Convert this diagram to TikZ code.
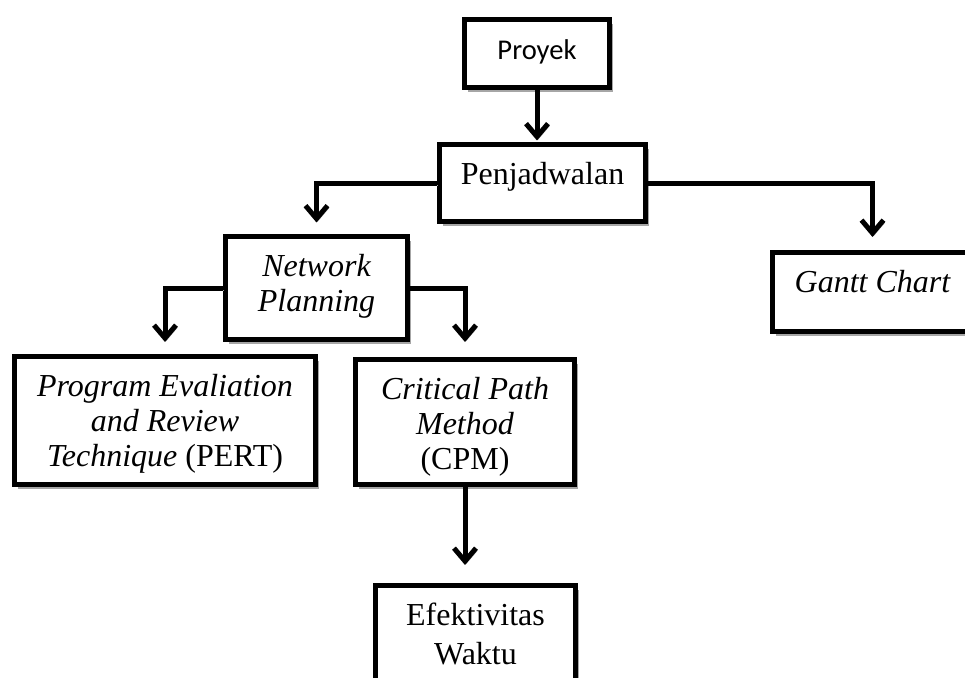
\documentclass[tikz,border=0pt]{standalone}
\usepackage{fontspec}
\setmainfont{Liberation Serif}
\newfontfamily\calibri{Carlito}
\usepackage{tikz}
\usetikzlibrary{arrows.meta,shadows}

\begin{document}
\begin{tikzpicture}[
	x=0.5pt, y=-0.5pt,
	box/.style={
		rectangle,
		draw=black,
		line width=2.5pt,
		fill=white,
		anchor=north,
		align=center,
		inner ysep=4pt,
		text height=16pt,
		font=\fontsize{16}{17.5}\selectfont,
		drop shadow={shadow xshift=1.8pt, shadow yshift=-1.8pt, fill=black!35, opacity=1}
		},
	it/.style={
		font=\fontsize{16}{17.5}\selectfont\itshape
	},
	link/.style={
		line width=2.5pt,
		-{Straight Barb[length=6.5pt,width=11pt]},
		preaction={draw=black!35, -{Straight Barb[length=6.5pt,width=11pt]}, transform canvas={shift={(0.6pt,-1.2pt)}}}
	}
]
\clip (0,0) rectangle (965,678);

% Boxes
\node [box, minimum width=72.5pt, text depth=10pt, font=\fontsize{14.3}{17.5}\calibri] (proyek) at (537,17.5) {Proyek};
\node [box, minimum width=103pt, text depth=14.5pt] (jadwal) at (542.5,142.5) {Penjadwalan};
\node [box, it, minimum width=91pt, text height=33.5pt, text depth=10pt] (network) at (316.5,234.5) {Network\\Planning};
\node [box, it, minimum width=100pt, text depth=15.5pt] (gantt) at (872.5,250.5) {Gantt Chart};
\node [box, it, minimum width=150.5pt, text height=51pt, text depth=5pt] (pert) at (165,354.5) {Program Evaliation\\and Review\\Technique \upshape(PERT)};
\node [box, it, minimum width=109.5pt, text height=51pt, text depth=3.5pt] (cpm) at (465,357.5) {Critical Path\\Method\\\upshape(CPM)};
\node [box, minimum width=100pt, text height=35.5pt, text depth=16.5pt] (waktu) at (475.5,583.5) {Efektivitas\\[2pt]Waktu};

% Connectors
\draw [link, shorten >=1pt] (proyek.south) -- (proyek.south |- jadwal.north);
\draw [link, shorten >=6pt] (jadwal.west) -| (network.north);
\draw [link, shorten >=6.75pt] (jadwal.east) -| (gantt.north);
\draw [link, shorten >=6.25pt] (network.west) -| (pert.north);
\draw [link, shorten >=7.75pt] (network.east) -| (cpm.north);
\draw [link, shorten >=9.25pt] (cpm.south) -- (cpm.south |- waktu.north);

\end{tikzpicture}
\end{document}
